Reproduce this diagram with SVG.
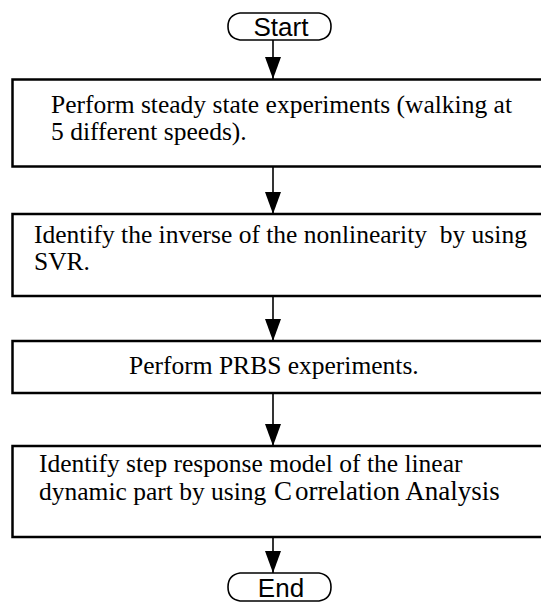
<svg xmlns="http://www.w3.org/2000/svg" width="541" height="604" viewBox="0 0 541 604">
  <style>
    .box { fill: #fff; stroke: #000; stroke-width: 2.5; }
    .term { fill: #fff; stroke: #000; stroke-width: 1.6; }
    .lbl { font-family: "Liberation Serif", "Times New Roman", serif; font-size: 25.5px; fill: #000; white-space: pre; }
    .big { font-size: 27px; }
    .tlbl { font-family: "Liberation Sans", Arial, sans-serif; font-size: 26px; fill: #000; text-anchor: middle; }
    .conn { stroke: #000; stroke-width: 1.6; fill: none; }
  </style>
  <defs>
    <marker id="head" markerUnits="userSpaceOnUse" markerWidth="18" markerHeight="24" viewBox="0 0 18 24" refX="9" refY="23" orient="0">
      <path d="M1,1 L17,1 L9,23 Z" fill="#000"/>
    </marker>
  </defs>
  <rect width="541" height="604" fill="#fff"/>

  <g id="connectors">
    <line class="conn" x1="273" y1="40" x2="273" y2="79" marker-end="url(#head)"/>
    <line class="conn" x1="273" y1="167" x2="273" y2="214" marker-end="url(#head)"/>
    <line class="conn" x1="273" y1="296" x2="273" y2="341" marker-end="url(#head)"/>
    <line class="conn" x1="273" y1="393" x2="273" y2="446" marker-end="url(#head)"/>
    <line class="conn" x1="273" y1="537" x2="273" y2="573" marker-end="url(#head)"/>
  </g>

  <g id="start">
    <path class="term" d="M240,13 H319 Q331,15 331,26.5 Q331,38 319,40 H240 Q228,38 228,26.5 Q228,15 240,13 Z"/>
    <text class="tlbl" x="281" y="35.5">Start</text>
  </g>

  <g id="steady-state">
    <rect class="box" x="12.5" y="79.5" width="540" height="87"/>
    <text class="lbl" x="51" y="113">Perform steady state experiments (walking at</text>
    <text class="lbl" x="51" y="140">5 different speeds).</text>
  </g>

  <g id="inverse-nonlinearity">
    <rect class="box" x="12.5" y="214" width="540" height="82"/>
    <text class="lbl" x="34" y="243">Identify the inverse of the nonlinearity  by using</text>
    <text class="lbl" x="34" y="270">SVR.</text>
  </g>

  <g id="prbs">
    <rect class="box" x="12.5" y="341" width="540" height="52"/>
    <text class="lbl" x="129" y="374">Perform PRBS experiments.</text>
  </g>

  <g id="step-response">
    <rect class="box" x="12.5" y="446" width="540" height="91"/>
    <text class="lbl" x="39" y="472">Identify step response model of the linear</text>
    <text class="lbl" x="39" y="500">dynamic part by using  <tspan class="big" x="274">C</tspan><tspan class="big" x="295">orrelation Analysis</tspan></text>
  </g>

  <g id="end">
    <path class="term" d="M240,573 H319 Q331,575 331,587 Q331,599 319,601 H240 Q228,599 228,587 Q228,575 240,573 Z"/>
    <text class="tlbl" x="281" y="596.5">End</text>
  </g>
</svg>
